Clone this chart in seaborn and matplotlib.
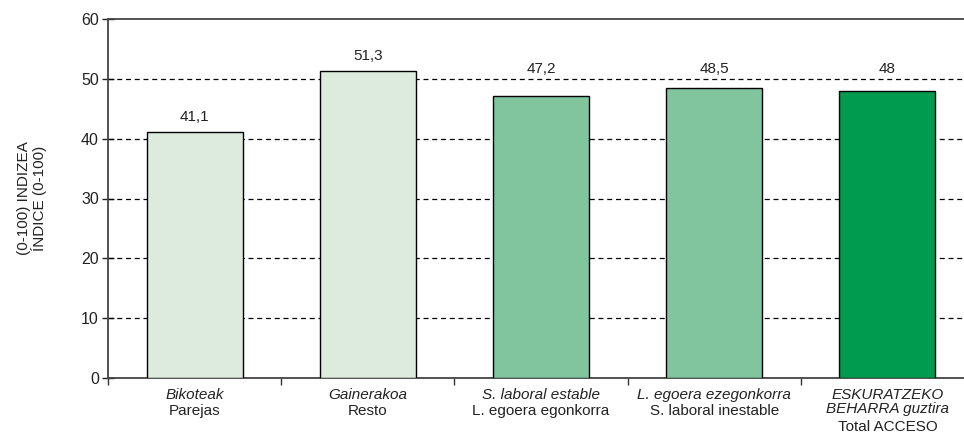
import matplotlib
matplotlib.use("Agg")
import matplotlib.pyplot as plt
import matplotlib.transforms as mtransforms
import seaborn as sns
import pandas as pd
import numpy as np

# Data
cat_eu = ["Bikoteak", "Gainerakoa", "S. laboral estable", "L. egoera ezegonkorra",
          "ESKURATZEKO\nBEHARRA guztira"]
cat_es = ["Parejas", "Resto", "L. egoera egonkorra", "S. laboral inestable", "Total ACCESO"]
values = [41.1, 51.3, 47.2, 48.5, 48.0]
value_labels = ["41,1", "51,3", "47,2", "48,5", "48"]
bar_colors = ["#DCEBDD", "#DCEBDD", "#80C59E", "#80C59E", "#009B4E"]

sns.set_style("white")
plt.rcParams["font.family"] = ["Liberation Sans", "DejaVu Sans"]

df = pd.DataFrame({"cat": cat_es, "value": values})

FS = 11
TXT = "#222222"

fig = plt.figure(figsize=(9.64, 4.37), dpi=100)
ax = fig.add_axes([108 / 964, 59 / 437, 866 / 964, 359 / 437])

sns.barplot(data=df, x="cat", y="value", hue="cat", palette=bar_colors,
            saturation=1, edgecolor="black", linewidth=1, width=0.555,
            legend=False, ax=ax, zorder=3)

ax.set_xlim(-0.5, 4.5)
ax.set_ylim(0, 60)
ax.set_yticks(np.arange(0, 61, 10))
ax.tick_params(axis="y", direction="inout", length=9, width=1, labelsize=11.5,
               colors=TXT, left=True, pad=2)
ax.set_xticks(np.arange(-0.5, 5, 1.0))
ax.set_xticklabels([])
ax.tick_params(axis="x", direction="out", length=5, width=1, bottom=True,
               colors="#333333")
ax.set_xlabel("")
ax.set_ylabel("(0-100) INDIZEA\nÍNDICE (0-100)", fontsize=FS, color=TXT,
              linespacing=1.05)
ax.yaxis.set_label_coords(-0.07, 0.5)

for y in range(10, 60, 10):
    ax.axhline(y, color="black", linestyle=(0, (4, 3)), linewidth=0.9, zorder=1)

for s in ["left", "bottom", "top"]:
    ax.spines[s].set_color("#444444")
    ax.spines[s].set_linewidth(1.3)
ax.spines["right"].set_visible(False)

# value labels: lifted above a gridline when they would sit on it
for i, (v, lab) in enumerate(zip(values, value_labels)):
    ly = v + 2.5
    g = np.ceil(v / 10) * 10
    if v < g < v + 4:
        ly = g + 1.6
    ax.text(i, ly, lab, ha="center", va="center", fontsize=FS,
            color=TXT, zorder=4,
            bbox=dict(facecolor="white", edgecolor="none", pad=0.5))

trans = mtransforms.blended_transform_factory(ax.transData, fig.transFigure)
for i, (eu, es) in enumerate(zip(cat_eu, cat_es)):
    n = eu.count("\n") + 1
    ax.text(i, 1 - 388 / 437, eu, ha="center", va="top", fontsize=FS,
            style="italic", color=TXT, transform=trans, linespacing=1.0)
    ax.text(i, 1 - (388 + 16 * n) / 437, es, ha="center", va="top", fontsize=FS,
            color=TXT, transform=trans)

fig.savefig("out.png", dpi=100)
